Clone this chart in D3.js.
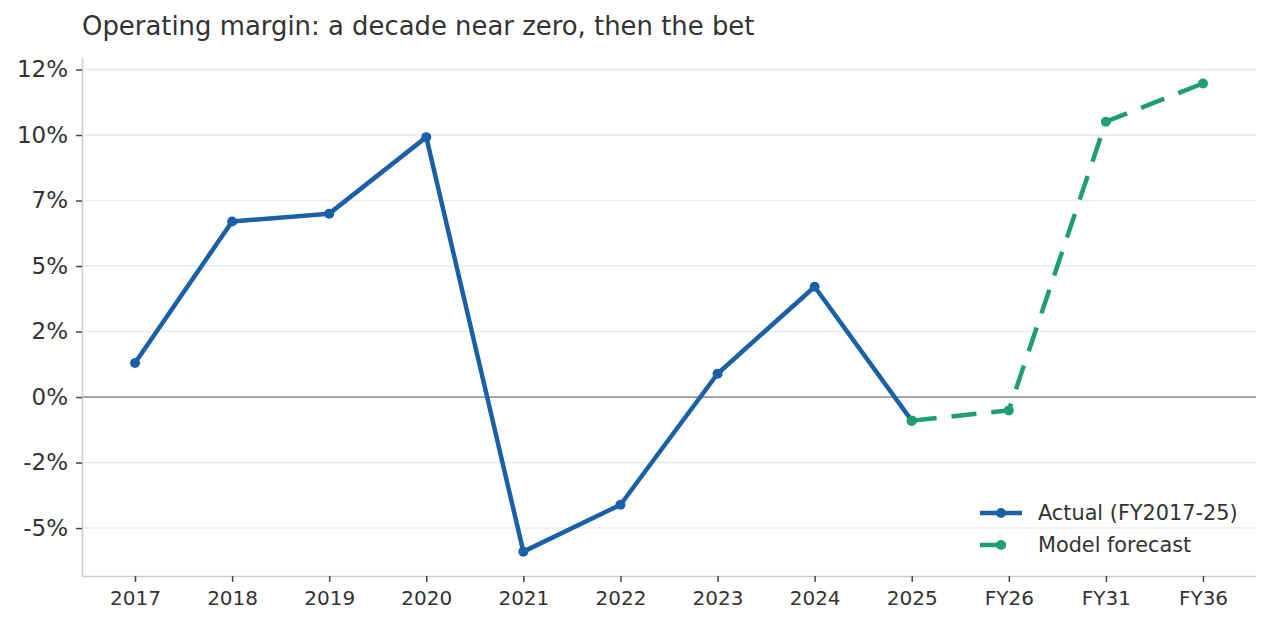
<!DOCTYPE html>
<html>
<head>
<meta charset="utf-8">
<script src="https://cdn.jsdelivr.net/npm/d3@7"></script>
<style>
  html, body { margin: 0; padding: 0; background: #fff; }
  text { font-family: "DejaVu Sans", sans-serif; fill: #333; }
</style>
</head>
<body>
<svg id="chart" width="1271" height="625"></svg>
<script>
// categories on the x axis
var periods = ["2017", "2018", "2019", "2020", "2021", "2022", "2023", "2024", "2025", "FY26", "FY31", "FY36"];

// operating margin, %
var actualPeriods = ["2017", "2018", "2019", "2020", "2021", "2022", "2023", "2024", "2025"];
var actualValues = [1.30, 6.70, 7.00, 9.92, -5.90, -4.11, 0.89, 4.21, -0.90];

var forecastPeriods = ["2025", "FY26", "FY31", "FY36"];
var forecastValues = [-0.90, -0.51, 10.51, 11.97];

// y ticks and their labels (labels are truncated)
var yTicks = [-5, -2.5, 0, 2.5, 5, 7.5, 10, 12.5];
var yTickLabels = ["-5%", "-2%", "0%", "2%", "5%", "7%", "10%", "12%"];

var blue = "#1b5fa6";
var green = "#1f9e74";

var svg = d3.select("#chart");

var plotLeft = 82, plotRight = 1256, plotTop = 58, plotBottom = 576;

var x = d3.scalePoint()
    .domain(periods)
    .range([plotLeft, plotRight])
    .padding(0.546);

var y = d3.scaleLinear()
    .domain([-6.83, 12.94])
    .range([plotBottom, plotTop]);

//gridlines
svg.append("g")
    .selectAll("line")
    .data(yTicks)
    .join("line")
    .attr("x1", plotLeft)
    .attr("x2", plotRight)
    .attr("y1", function (d) { return y(d); })
    .attr("y2", function (d) { return y(d); })
    .attr("stroke", "#ebebeb")
    .attr("stroke-width", 1.5);

//zero line
svg.append("line")
    .attr("x1", plotLeft)
    .attr("x2", plotRight)
    .attr("y1", y(0))
    .attr("y2", y(0))
    .attr("stroke", "#999")
    .attr("stroke-width", 1.8);

//axes
var yAxis = svg.append("g")
    .attr("transform", "translate(" + plotLeft + ",0)")
    .call(d3.axisLeft(y)
        .tickValues(yTicks)
        .tickFormat(function (d, i) { return yTickLabels[i]; })
        .tickSize(6)
        .tickPadding(8));

var xAxis = svg.append("g")
    .attr("transform", "translate(0," + plotBottom + ")")
    .call(d3.axisBottom(x)
        .tickSize(6)
        .tickPadding(9));

yAxis.select(".domain").attr("stroke", "#ccc").attr("stroke-width", 1.5)
    .attr("d", "M0.5," + plotTop + "V" + plotBottom);
xAxis.select(".domain").attr("stroke", "#ccc").attr("stroke-width", 1.5)
    .attr("d", "M" + plotLeft + ",0.5H" + plotRight);

yAxis.selectAll(".tick line").attr("stroke", "#444").attr("stroke-width", 1.5);
xAxis.selectAll(".tick line").attr("stroke", "#444").attr("stroke-width", 1.5);
yAxis.selectAll(".tick text").attr("font-size", "23px").attr("fill", "#333")
    .attr("font-family", "DejaVu Sans");
xAxis.selectAll(".tick text").attr("font-size", "20px").attr("fill", "#333")
    .attr("font-family", "DejaVu Sans");

//series lines
var line = d3.line()
    .x(function (d) { return x(d.p); })
    .y(function (d) { return y(d.v); });

var actual = actualPeriods.map(function (p, i) { return { p: p, v: actualValues[i] }; });
var forecast = forecastPeriods.map(function (p, i) { return { p: p, v: forecastValues[i] }; });

svg.append("path")
    .datum(forecast)
    .attr("d", line)
    .attr("fill", "none")
    .attr("stroke", green)
    .attr("stroke-width", 4.5)
    .attr("stroke-dasharray", "25,15");

svg.append("path")
    .datum(actual)
    .attr("d", line)
    .attr("fill", "none")
    .attr("stroke", blue)
    .attr("stroke-width", 4.5)
    .attr("stroke-linejoin", "round");

svg.append("g")
    .selectAll("circle")
    .data(actual)
    .join("circle")
    .attr("cx", function (d) { return x(d.p); })
    .attr("cy", function (d) { return y(d.v); })
    .attr("r", 5)
    .attr("fill", blue);

svg.append("g")
    .selectAll("circle")
    .data(forecast)
    .join("circle")
    .attr("cx", function (d) { return x(d.p); })
    .attr("cy", function (d) { return y(d.v); })
    .attr("r", 5)
    .attr("fill", green);

//title
svg.append("text")
    .attr("x", plotLeft)
    .attr("y", 35)
    .attr("font-size", "25.9px")
    .text("Operating margin: a decade near zero, then the bet");

//legend
var legendItems = [
    { label: "Actual (FY2017-25)", color: blue, dash: null },
    { label: "Model forecast", color: green, dash: "26,20" }
];

var legend = svg.append("g")
    .selectAll("g")
    .data(legendItems)
    .join("g")
    .attr("transform", function (d, i) { return "translate(980," + (513 + i * 32) + ")"; });

legend.append("line")
    .attr("x1", 0)
    .attr("x2", 42)
    .attr("stroke", function (d) { return d.color; })
    .attr("stroke-width", 4.5)
    .attr("stroke-dasharray", function (d) { return d.dash; });

legend.append("circle")
    .attr("cx", 21)
    .attr("r", 5)
    .attr("fill", function (d) { return d.color; });

legend.append("text")
    .attr("x", 58)
    .attr("y", 7)
    .attr("font-size", "20.8px")
    .text(function (d) { return d.label; });
</script>
</body>
</html>
